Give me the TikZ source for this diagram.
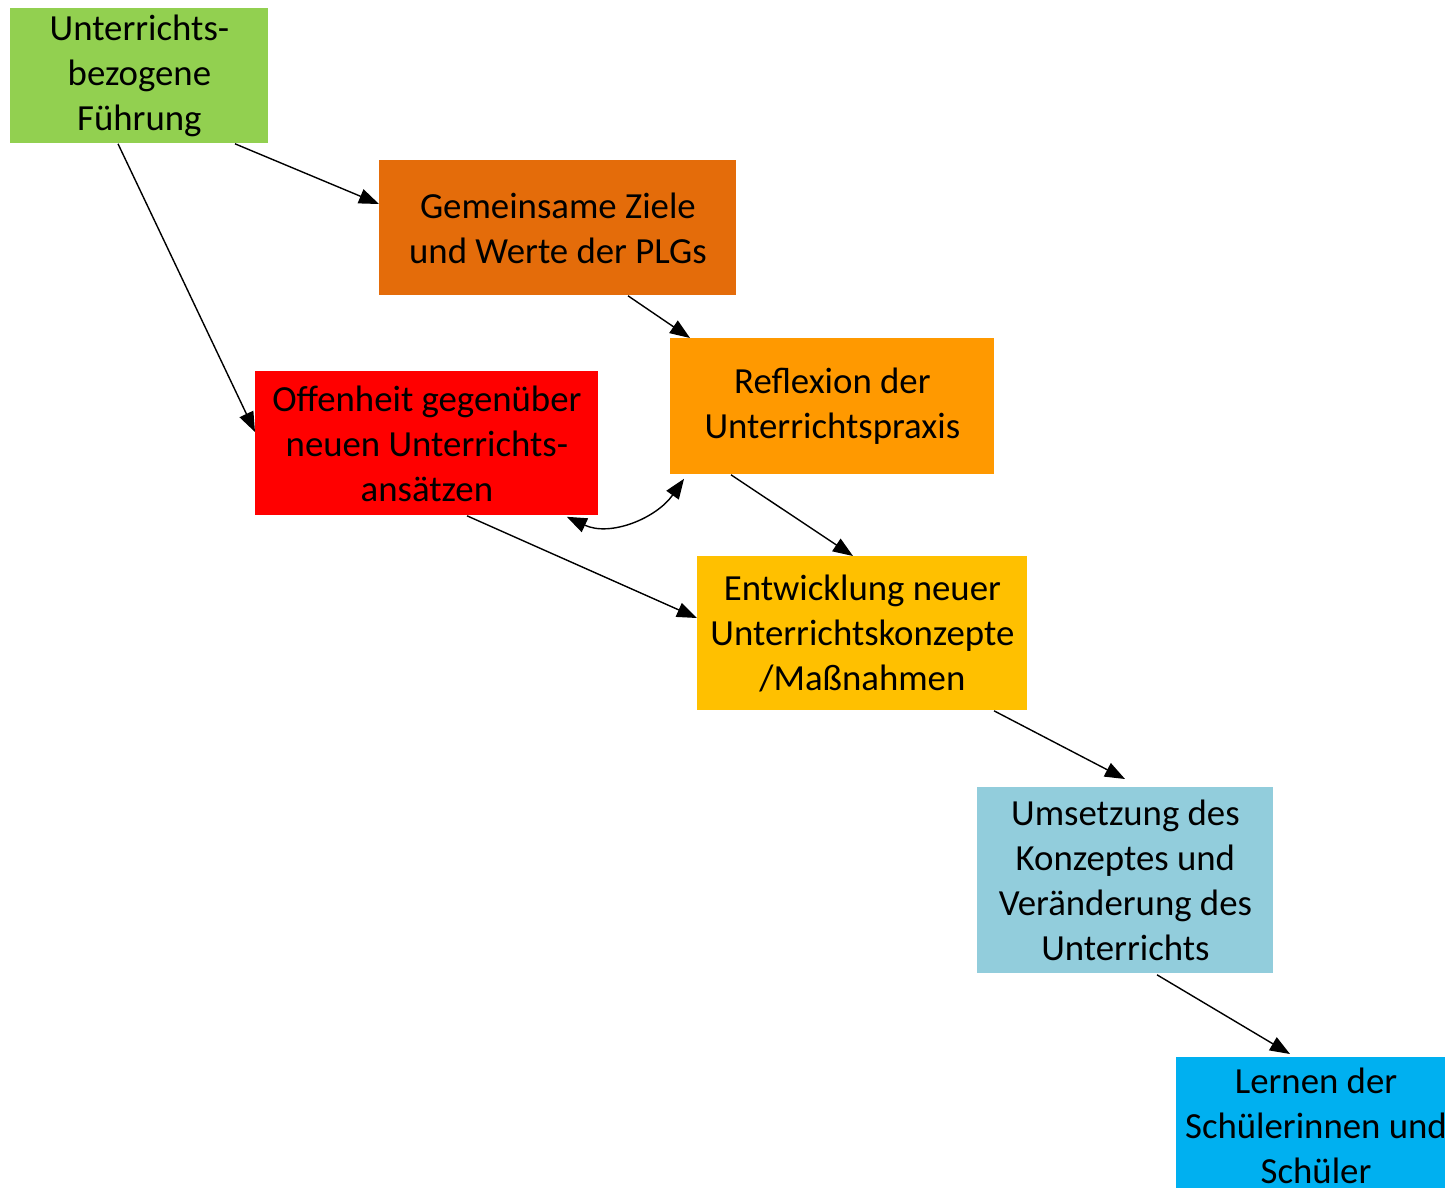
\documentclass[tikz,border=0pt]{standalone}
\usepackage{fontspec}
\setmainfont{Carlito}
\usetikzlibrary{arrows.meta,calc}
\definecolor{cgreen}{HTML}{92D050}
\definecolor{cdorange}{HTML}{E46C0A}
\definecolor{corange}{HTML}{FF9900}
\definecolor{cred}{HTML}{FF0000}
\definecolor{cgold}{HTML}{FFC000}
\definecolor{cpale}{HTML}{92CDDC}
\definecolor{ccyan}{HTML}{00B0F0}
\tikzset{
  box/.style={inner sep=0pt, align=center, anchor=north west,
    font=\fontsize{18.4pt}{22.5pt}\selectfont, text=black},
  arr/.style={-{Triangle[length=10pt,width=7.5pt]}, line width=0.7pt, black},
  darr/.style={{Triangle[length=10pt,width=7.5pt]}-{Triangle[length=10pt,width=7.5pt]}, line width=0.7pt, black}
}
\begin{document}
\begin{tikzpicture}[x=0.5pt,y=-0.5pt]
\useasboundingbox (0,0) rectangle (1445,1188);
\clip (0,0) rectangle (1445,1188);
% boxes
\node[box, fill=cgreen, minimum width=129pt, minimum height=67.5pt] (A) at (10,8) {Unterrichts-\\bezogene\\Führung};
\node[box, fill=cdorange, minimum width=178.5pt, minimum height=67.5pt] (B) at (379,160) {Gemeinsame Ziele\\und Werte der PLGs};
\node[box, fill=corange, minimum width=162pt, minimum height=68pt] (C) at (670,338) {Reflexion der\\Unterrichtspraxis};
\node[box, fill=cred, minimum width=171.5pt, minimum height=72pt] (D) at (255,371) {Offenheit gegenüber\\neuen Unterrichts-\\ansätzen};
\node[box, fill=cgold, minimum width=165pt, minimum height=77pt] (E) at (697,556) {Entwicklung neuer\\Unterrichtskonzepte\\/Maßnahmen};
\node[box, fill=cpale, minimum width=148pt, minimum height=93pt] (F) at (977,787) {Umsetzung des\\Konzeptes und\\Veränderung des\\Unterrichts};
\node[box, fill=ccyan, minimum width=140pt, minimum height=68pt, anchor=north] (G) at (1316,1057) {Lernen der\\Schülerinnen und\\Schüler};
% connectors
\draw[arr] ($(A.south west)+(225,0)$) -- ($(B.north west)+(0,44)$);
\draw[arr] ($(A.south west)+(108,0)$) -- ($(D.north west)+(0,61)$);
\draw[arr] ($(B.south west)+(249,0)$) -- ($(C.north west)+(20,0)$);
\draw[arr] ($(C.south west)+(61,0)$) -- ($(E.north west)+(156,0)$);
\draw[arr] ($(D.south west)+(212,0)$) -- ($(E.north west)+(0,62)$);
\draw[arr] ($(E.south west)+(297,0)$) -- ($(F.north west)+(148,-8)$);
\draw[arr] ($(F.south west)+(180,1)$) -- ($(G.north)+(-26,-3)$);
\draw[darr] ($(D.south east)+(-32,1)$) to[out=-25,in=-125] ($(C.south west)+(14,4)$);
\end{tikzpicture}
\end{document}
